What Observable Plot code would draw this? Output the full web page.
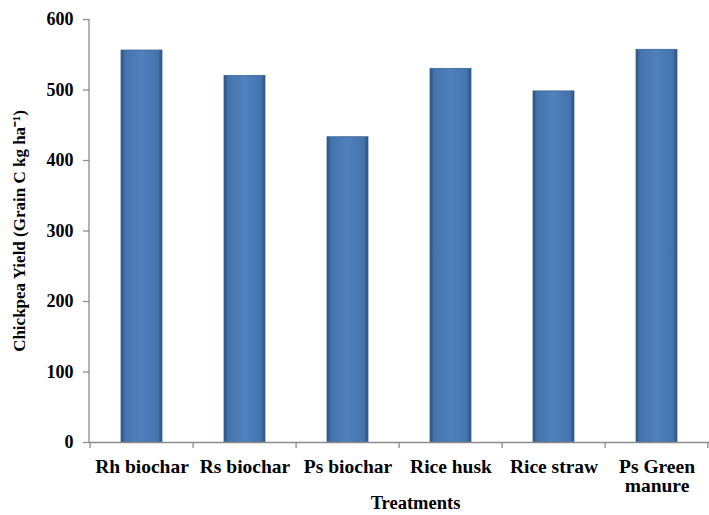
<!DOCTYPE html>
<html><head><meta charset="utf-8">
<script src="https://cdn.jsdelivr.net/npm/d3@7"></script>
<script src="https://cdn.jsdelivr.net/npm/@observablehq/plot@0.6"></script>
<style>body{margin:0;background:#fff}</style>
</head><body><div id="chart"></div>
<script>
const treatments = ["Rh biochar", "Rs biochar", "Ps biochar", "Rice husk", "Rice straw", "Ps Green manure"];
const yields = [556, 520, 433, 530, 498, 557];
const tickLabels = ["Rh biochar", "Rs biochar", "Ps biochar", "Rice husk", "Rice straw", "Ps Green\nmanure"];
const yTicks = [0, 100, 200, 300, 400, 500, 600];
const yTitle = "Chickpea Yield (Grain C kg ha\u207B\u00B9)";
const xTitle = "Treatments";

const data = treatments.map((t, i) => ({t, v: yields[i]}));
const font = "'Liberation Serif', 'Times New Roman', serif";

// custom mark: y axis line + band boundary ticks on x axis
function frameLines(index, scales, values, dims) {
  const {x, y} = scales;
  const step = x.step(), pad = step * 0.3;
  const g = d3.create("svg:g").attr("stroke", "#8c8c8c").attr("stroke-width", 1.3);
  g.append("line")
    .attr("x1", dims.marginLeft).attr("x2", dims.marginLeft)
    .attr("y1", y(0)).attr("y2", y(600));
  const bounds = treatments.map(t => x(t) - pad);
  bounds.push(x(treatments[treatments.length - 1]) + x.bandwidth() + pad);
  g.selectAll(".b").data(bounds).join("line")
    .attr("x1", d => d).attr("x2", d => d)
    .attr("y1", y(0)).attr("y2", y(0) + 6);
  return g.node();
}

const plot = Plot.plot({
  width: 709,
  height: 515,
  marginLeft: 89,
  marginRight: 0,
  marginTop: 19,
  marginBottom: 73,
  style: {fontFamily: font, fontWeight: "bold", color: "#000", background: "#fff"},
  x: {domain: treatments, paddingInner: 0.6, paddingOuter: 0.3},
  y: {domain: [0, 600]},
  marks: [
    Plot.barY(data, {x: "t", y: "v", fill: "url(#barGrad)", stroke: "#3b6596", strokeWidth: 0.8}),
    Plot.ruleY([0], {stroke: "#8c8c8c", strokeWidth: 1.3}),
    frameLines,
    Plot.axisY(yTicks, {
      tickSize: 6, tickPadding: 10, stroke: "#8c8c8c", strokeWidth: 1.3,
      fontSize: 18, label: yTitle, labelAnchor: "center", labelOffset: 77, labelArrow: "none"
    }),
    Plot.axisX({
      tickSize: 0, tickPadding: 17, fontSize: 19.5, label: null,
      tickFormat: (d, i) => tickLabels[treatments.indexOf(d)], lineHeight: 0.98
    }),
    Plot.text([xTitle], {frameAnchor: "bottom", dy: 66, dx: 16, fontSize: 18.5, fontWeight: "bold"})
  ]
});

const defs = d3.select(plot).insert("defs", ":first-child");
const grad = defs.append("linearGradient").attr("id", "barGrad").attr("x1", "0").attr("x2", "1").attr("y1", "0").attr("y2", "0");
[["0%", "#2c4e7a"], ["10%", "#4474ad"], ["50%", "#4f81bd"], ["90%", "#4474ad"], ["100%", "#2c4e7a"]]
  .forEach(([o, c]) => grad.append("stop").attr("offset", o).attr("stop-color", c));
d3.select(plot).selectAll("g[aria-label='y-axis label']").attr("font-size", 17);

document.getElementById("chart").appendChild(plot);
</script>
</body></html>
